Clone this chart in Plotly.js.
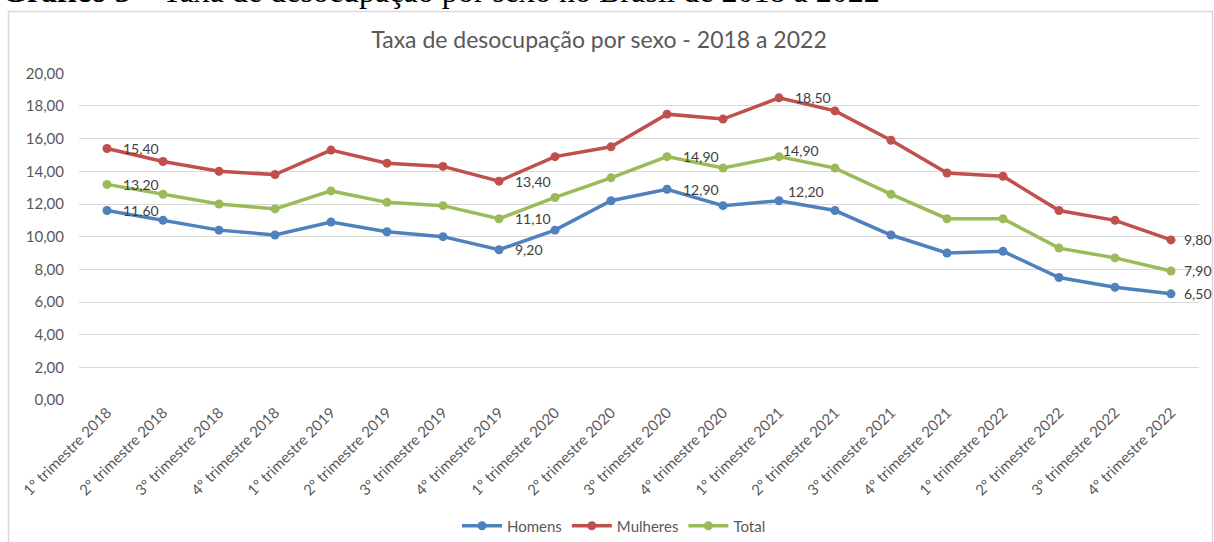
<!DOCTYPE html>
<html>
<head>
<meta charset="utf-8">
<script src="https://cdn.plot.ly/plotly-3.0.1.min.js"></script>
<style>
  html, body { margin: 0; padding: 0; background: #ffffff; }
  #chart { width: 1214px; height: 542px; }
</style>
</head>
<body>
<div id="chart"></div>
<script>
// ---------- data ----------
const categories = [
  "1º trimestre 2018", "2º trimestre 2018", "3º trimestre 2018", "4º trimestre 2018",
  "1º trimestre 2019", "2º trimestre 2019", "3º trimestre 2019", "4º trimestre 2019",
  "1º trimestre 2020", "2º trimestre 2020", "3º trimestre 2020", "4º trimestre 2020",
  "1º trimestre 2021", "2º trimestre 2021", "3º trimestre 2021", "4º trimestre 2021",
  "1º trimestre 2022", "2º trimestre 2022", "3º trimestre 2022", "4º trimestre 2022"
];
const homens   = [11.6, 11.0, 10.4, 10.1, 10.9, 10.3, 10.0, 9.2, 10.4, 12.2, 12.9, 11.9, 12.2, 11.6, 10.1, 9.0, 9.1, 7.5, 6.9, 6.5];
const mulheres = [15.4, 14.6, 14.0, 13.8, 15.3, 14.5, 14.3, 13.4, 14.9, 15.5, 17.5, 17.2, 18.5, 17.7, 15.9, 13.9, 13.7, 11.6, 11.0, 9.8];
const total    = [13.2, 12.6, 12.0, 11.7, 12.8, 12.1, 11.9, 11.1, 12.4, 13.6, 14.9, 14.2, 14.9, 14.2, 12.6, 11.1, 11.1, 9.3, 8.7, 7.9];
const seriesNames = ["Homens", "Mulheres", "Total"];
// indices of points carrying a data label
const labelsHomens   = [0, 7, 10, 12, 19];
const labelsMulheres = [0, 7, 12, 19];
const labelsTotal    = [0, 7, 10, 12, 19];
const yTicks = [0, 2, 4, 6, 8, 10, 12, 14, 16, 18, 20];
const chartTitle = "Taxa de desocupação por sexo - 2018 a 2022";
const headerBold = "Gráfico 5 –";
const headerText = "Taxa de desocupação por sexo no Brasil de 2018 a 2022";

// ---------- styling ----------
const colors = ["#4F81BD", "#C0504D", "#9BBB59"];
const W = 1214, H = 542;
const plotL = 79, plotR = 1199, plotT = 73, plotB = 400;
const pw = plotR - plotL, ph = plotB - plotT;
const px2x = x => (x - plotL) / pw;
const px2y = y => (plotB - y) / ph;
const fmt = v => v.toFixed(2).replace(".", ",");
const FONT = "Lato, 'Open Sans', sans-serif";

// label offsets (pixels) per series: default and special cases keyed by point index
const labelShift = [
  { def: [15, 0], special: { 12: [8, 9], 19: [12, 0] } },
  { def: [15, 0], special: { 19: [12, 0] } },
  { def: [15, 0], special: { 12: [3, 6], 19: [12, 0] } }
];

function makeTrace(name, values, color) {
  return {
    type: "scatter",
    mode: "lines+markers",
    name: name,
    x: categories,
    y: values,
    line: { color: color, width: 3.5 },
    marker: { color: color, size: 9 },
    cliponaxis: false,
    hoverinfo: "x+y+name"
  };
}

function makeLabels(values, labelIdx, shift) {
  return labelIdx.map(i => {
    const s = shift.special[i] || shift.def;
    return {
      xref: "x", yref: "y",
      x: categories[i], y: values[i],
      text: fmt(values[i]),
      showarrow: false,
      xanchor: "left", yanchor: "middle",
      xshift: s[0], yshift: s[1],
      borderpad: 0,
      font: { family: FONT, size: 14, color: "#404040" }
    };
  });
}

const data = [
  makeTrace(seriesNames[0], homens, colors[0]),
  makeTrace(seriesNames[1], mulheres, colors[1]),
  makeTrace(seriesNames[2], total, colors[2])
];

const tickFont = { family: FONT, size: 15, color: "#595959" };

const annotations = [].concat(
  makeLabels(homens, labelsHomens, labelShift[0]),
  makeLabels(mulheres, labelsMulheres, labelShift[1]),
  makeLabels(total, labelsTotal, labelShift[2]),
  [{
    xref: "paper", yref: "paper",
    x: px2x(0), xanchor: "left",
    y: px2y(-9), yanchor: "middle",
    showarrow: false,
    text: "<b>" + headerBold + "</b> " + headerText,
    font: { family: "'Liberation Serif', 'Times New Roman', serif", size: 32, color: "#000000" }
  }]
);

const layout = {
  width: W, height: H,
  paper_bgcolor: "#ffffff",
  plot_bgcolor: "#ffffff",
  separators: ",.",
  margin: { l: plotL, r: W - plotR, t: plotT, b: H - plotB, pad: 0, autoexpand: false },
  showlegend: true,
  title: {
    text: chartTitle,
    x: 599 / W, xanchor: "center", xref: "container",
    y: 1 - 40 / H, yanchor: "middle", yref: "container",
    font: { family: FONT, size: 23, color: "#595959" }
  },
  xaxis: {
    type: "category",
    range: [-0.5, categories.length - 0.5],
    tickangle: -45,
    tickfont: tickFont,
    showgrid: false,
    zeroline: false,
    showline: false,
    ticks: "",
    automargin: false,
    fixedrange: true
  },
  yaxis: {
    range: [0, 20.02],
    tickvals: yTicks,
    tickformat: ".2f",
    tickfont: tickFont,
    showgrid: true,
    gridcolor: "#D9D9D9",
    gridwidth: 1,
    zeroline: false,
    showline: false,
    ticks: "",
    ticklabelstandoff: 14,
    automargin: false,
    fixedrange: true
  },
  legend: {
    orientation: "h",
    x: px2x(614), xanchor: "center",
    y: px2y(526), yanchor: "middle",
    font: { family: FONT, size: 15, color: "#595959" },
    itemwidth: 40,
    traceorder: "normal"
  },
  shapes: [{
    type: "rect", xref: "paper", yref: "paper", layer: "below",
    x0: px2x(8.5), x1: px2x(1212.5), y0: px2y(560), y1: px2y(11.5),
    line: { color: "#D9D9D9", width: 1.5 }, fillcolor: "rgba(0,0,0,0)"
  }],
  annotations: annotations
};

Plotly.newPlot("chart", data, layout, { displayModeBar: false, staticPlot: true });
</script>
</body>
</html>
